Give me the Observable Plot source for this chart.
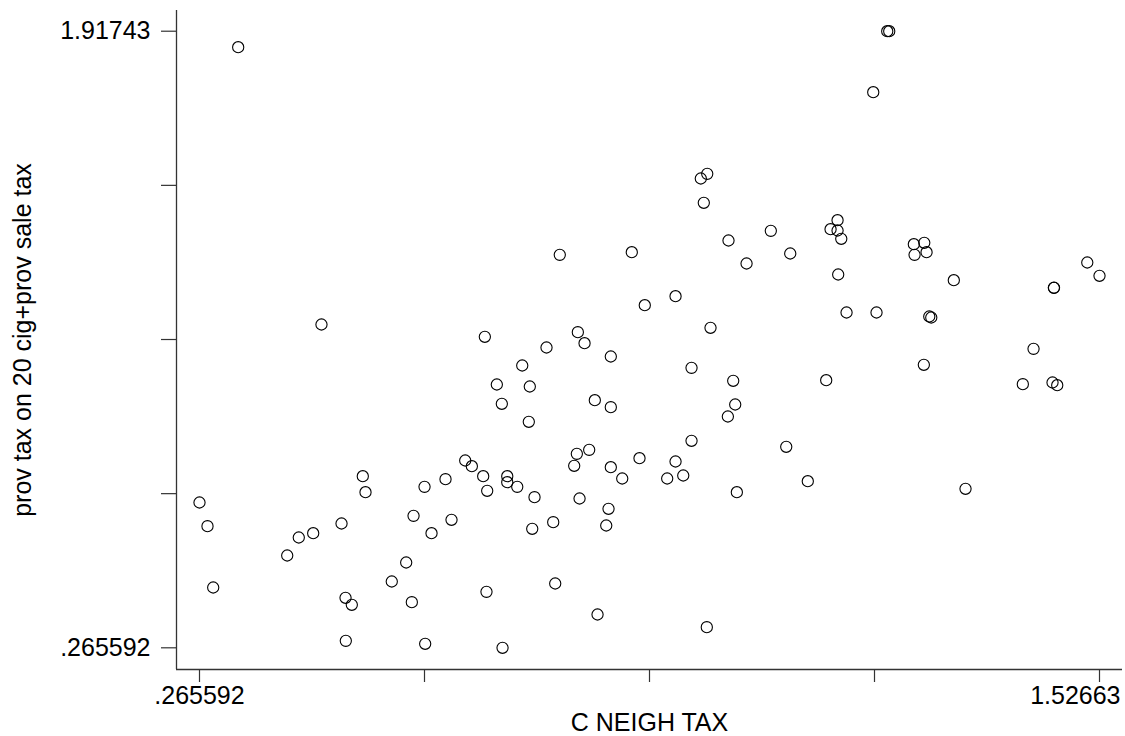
<!DOCTYPE html>
<html>
<head>
<meta charset="utf-8">
<script src="https://cdn.jsdelivr.net/npm/d3@7"></script>
<script src="https://cdn.jsdelivr.net/npm/@observablehq/plot@0.6"></script>
<style>
  html, body { margin: 0; padding: 0; background: #fff; }
  #chart { width: 1125px; height: 736px; }
</style>
</head>
<body>
<div id="chart"></div>
<script>
// C NEIGH TAX (x) and prov tax on 20 cig+prov sale tax (y)
const neighTax = [
  0.3198, 0.4365, 0.7704, 0.8713, 0.8895, 1.2292, 1.2320, 1.2096, 0.9770, 0.9680,
  0.9722, 1.0661, 1.0068, 1.0933, 1.0321, 1.1596, 1.1498, 1.1596, 1.1648, 1.1605,
  1.2665, 1.2811, 1.2675, 1.2843, 1.3225, 1.4627, 1.4629, 1.5095, 1.52663, 0.9326,
  0.9816, 1.1722, 1.2142, 1.2881, 1.2909, 0.6654, 0.7957, 0.8051, 0.7518, 0.8419,
  0.7178, 0.6822, 0.7284, 0.6892, 0.8195, 0.8419, 0.7270, 0.8116, 0.7943, 0.7906,
  0.8821, 0.8419, 0.8579, 0.7981, 0.8387, 0.8355, 0.7612, 0.7318, 0.7350, 0.7108,
  0.6968, 0.6968, 0.6687, 0.6631, 0.6472, 0.6379, 0.6103, 0.5809, 0.6187, 0.5655,
  0.5907, 0.5552, 0.5350, 0.5631, 0.6677, 0.7640, 0.8233, 0.6902, 0.5818, 0.4706,
  0.4702, 0.4790, 0.4944, 0.4982, 0.4646, 0.4249, 0.4047, 0.3885, 0.265592, 0.2768,
  0.2848, 0.9550, 1.0134, 1.1437, 1.2805, 1.4342, 1.4192, 1.4608, 1.4674, 1.0162,
  1.0059, 0.9550, 1.0877, 0.9326, 0.9434, 0.9209, 1.0185, 1.1179, 1.3389, 0.9764
];
const provTax = [
  1.8746, 1.1317, 1.3184, 1.3254, 1.1834, 1.91743, 1.91743, 1.7540, 1.5354, 1.5229,
  1.4578, 1.3827, 1.3568, 1.3219, 1.2951, 1.4111, 1.3870, 1.3835, 1.3613, 1.2657,
  1.3468, 1.3506, 1.3184, 1.3254, 1.2504, 1.2300, 1.2302, 1.2978, 1.2622, 1.2075,
  1.1229, 1.1639, 1.1639, 1.1531, 1.1505, 1.0988, 1.1111, 1.0816, 1.0701, 1.0460,
  1.0219, 0.9710, 0.9656, 0.9193, 0.9289, 0.9102, 0.8711, 0.7960, 0.7853, 0.7532,
  0.7735, 0.7494, 0.7192, 0.6656, 0.6380, 0.5932, 0.6021, 0.5844, 0.6691, 0.6969,
  0.7253, 0.7092, 0.6862, 0.7253, 0.7521, 0.7674, 0.7173, 0.6969, 0.6085, 0.6192,
  0.5726, 0.4941, 0.4432, 0.3878, 0.4156, 0.4379, 0.3548, 0.265592, 0.2763, 0.2843,
  0.3996, 0.3808, 0.7253, 0.6824, 0.5986, 0.5726, 0.5611, 0.5129, 0.6549, 0.5914,
  0.4271, 1.0157, 0.9809, 0.9825, 1.0238, 1.0666, 0.9718, 0.9763, 0.9691, 0.9174,
  0.8853, 0.8202, 0.8041, 0.7647, 0.7272, 0.7192, 0.6824, 0.7119, 0.6916, 0.3208
];

// axis ticks (Stata style: min/max labelled, 3 unlabelled in between)
const xTicks = [0.265592, 0.580851, 0.896111, 1.21137, 1.52663];
const yTicks = [0.265592, 0.678552, 1.091511, 1.504471, 1.91743];
const xTickLabels = [".265592", "1.52663"];
const yTickLabels = [".265592", "1.91743"];
const xTitle = "C NEIGH TAX";
const yTitle = "prov tax on 20 cig+prov sale tax";

const xDomain = [0.23337, 1.55885];
const yDomain = [0.20746, 1.97292];

const data = neighTax.map((x, i) => ({x, y: provTax[i]}));

const font = "'Liberation Sans', Arial, Helvetica, sans-serif";
const axisColor = "#333";
const fs = 25;

const chart = Plot.plot({
  width: 1125,
  height: 736,
  marginLeft: 176,
  marginRight: 3,
  marginTop: 10,
  marginBottom: 67,
  style: {fontFamily: font, fontSize: fs + "px", color: "#000", background: "#fff"},
  x: {domain: xDomain},
  y: {domain: yDomain},
  marks: [
    Plot.axisX(xTicks, {tickSize: 13, tickFormat: () => "", label: null, stroke: axisColor, strokeWidth: 1.2}),
    Plot.axisY(yTicks, {tickSize: 15, tickFormat: () => "", label: null, stroke: axisColor, strokeWidth: 1.2}),
    Plot.ruleX([xDomain[0]], {stroke: axisColor, strokeWidth: 1.3}),
    Plot.ruleY([yDomain[0]], {stroke: axisColor, strokeWidth: 1.3}),
    // x tick labels
    Plot.text([xTicks[0]], {x: d => d, text: () => xTickLabels[0], frameAnchor: "bottom", lineAnchor: "middle", textAnchor: "middle", dy: 26, fontSize: fs, fill: "#000"}),
    Plot.text([xTicks[4]], {x: d => d, text: () => xTickLabels[1], frameAnchor: "bottom", lineAnchor: "middle", dy: 26, dx: 21, textAnchor: "end", fontSize: fs, fill: "#000"}),
    // y tick labels
    Plot.text([yTicks[0], yTicks[4]], {y: d => d, text: (d, i) => yTickLabels[i], frameAnchor: "left", lineAnchor: "middle", dx: -26, textAnchor: "end", fontSize: fs, fill: "#000"}),
    // axis titles
    Plot.text([xTitle], {text: d => d, frameAnchor: "bottom", lineAnchor: "middle", textAnchor: "middle", dy: 53, fontSize: fs, fill: "#000"}),
    Plot.text([yTitle], {text: d => d, frameAnchor: "left", lineAnchor: "middle", textAnchor: "middle", dx: -154, rotate: -90, fontSize: fs, fill: "#000"}),
    // points
    Plot.dot(data, {x: "x", y: "y", r: 5.6, stroke: "#000", strokeWidth: 1.1, fill: "none"})
  ]
});

document.getElementById("chart").appendChild(chart);
</script>
</body>
</html>
